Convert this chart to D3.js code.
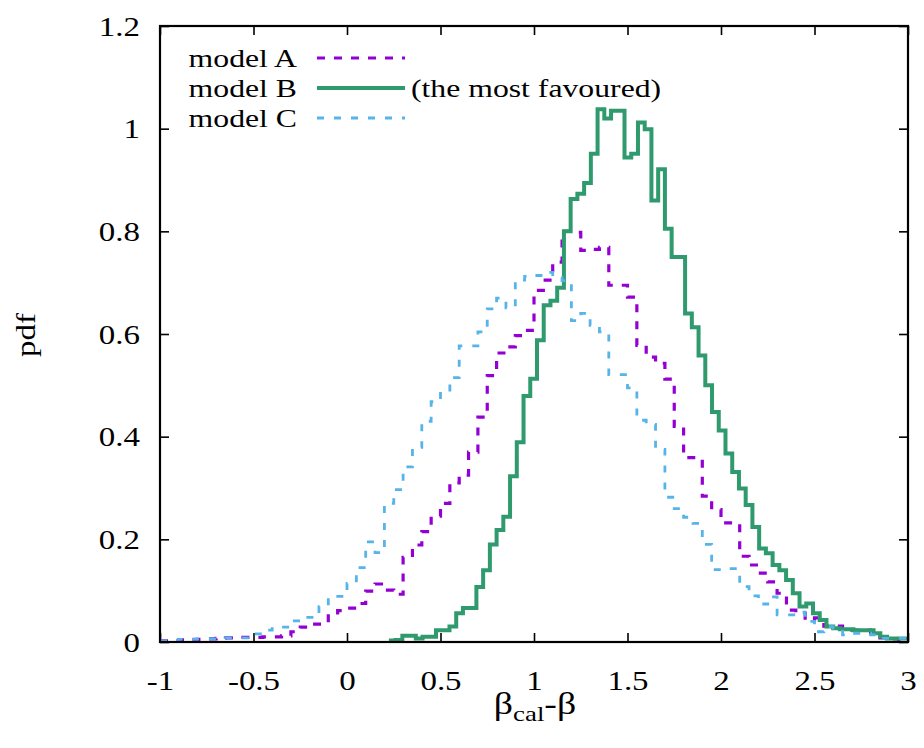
<!DOCTYPE html>
<html>
<head>
<meta charset="utf-8">
<script src="https://cdn.jsdelivr.net/npm/d3@7"></script>
<style>
  body { margin: 0; background: #fff; }
  text { font-family: "Liberation Serif", "Times New Roman", serif; fill: #000; }
</style>
</head>
<body>
<div id="viz"></div>
<script>
const width = 924;
const height = 748;
const margin = {top: 26, right: 16, bottom: 106, left: 160};
const stretch = 1.22; // text in the figure is a bit wider than plain Times

// axis ticks
const xTicks = [-1, -0.5, 0, 0.5, 1, 1.5, 2, 2.5, 3];
const yTicks = [0, 0.2, 0.4, 0.6, 0.8, 1, 1.2];

// histogram bins (left edge of first bin, bin width)
const binStartAC = -1;
const binWidthAC = 0.05;
const binStartB = 0.224;
const binWidthB = 0.036;

// model A, pdf per bin
const modelA = [
  0.002, 0.003, 0.004, 0.005, 0.005, 0.006, 0.007, 0.008, 0.009, 0.009,
  0.009, 0.010, 0.010, 0.012, 0.020, 0.029, 0.035, 0.035, 0.051, 0.061,
  0.066, 0.075, 0.099, 0.113, 0.101, 0.093, 0.165, 0.189, 0.215, 0.245,
  0.270, 0.310, 0.325, 0.370, 0.438, 0.519, 0.563, 0.575, 0.597, 0.607,
  0.685, 0.705, 0.740, 0.800, 0.798, 0.763, 0.765, 0.769, 0.695, 0.695,
  0.672, 0.578, 0.555, 0.543, 0.512, 0.420, 0.359, 0.359, 0.284, 0.258,
  0.232, 0.232, 0.167, 0.150, 0.134, 0.117, 0.095, 0.062, 0.056, 0.043,
  0.047, 0.031, 0.031, 0.027, 0.023, 0.023, 0.017, 0.008, 0.006, 0.005
];

// model B, pdf per bin
const modelB = [
  0.003, 0.004, 0.012, 0.012, 0.007, 0.010, 0.010, 0.023, 0.023, 0.030,
  0.056, 0.066, 0.066, 0.107, 0.140, 0.190, 0.218, 0.244, 0.323, 0.389,
  0.479, 0.513, 0.588, 0.656, 0.665, 0.690, 0.800, 0.863, 0.873, 0.894,
  0.951, 1.038, 1.020, 1.035, 1.035, 0.944, 0.951, 1.012, 0.999, 0.860,
  0.921, 0.805, 0.750, 0.750, 0.640, 0.613, 0.558, 0.500, 0.448, 0.412,
  0.367, 0.331, 0.299, 0.267, 0.224, 0.182, 0.173, 0.150, 0.140, 0.121,
  0.095, 0.069, 0.075, 0.056, 0.043, 0.030, 0.027, 0.025, 0.025, 0.023,
  0.023, 0.023, 0.017, 0.010, 0.007, 0.007, 0.007
];

// model C, pdf per bin
const modelC = [
  0.002, 0.003, 0.005, 0.005, 0.006, 0.006, 0.007, 0.008, 0.008, 0.008,
  0.016, 0.023, 0.029, 0.029, 0.041, 0.048, 0.048, 0.069, 0.089, 0.089,
  0.114, 0.145, 0.195, 0.174, 0.270, 0.297, 0.341, 0.379, 0.430, 0.468,
  0.487, 0.515, 0.577, 0.577, 0.604, 0.649, 0.670, 0.651, 0.705, 0.712,
  0.714, 0.720, 0.710, 0.704, 0.626, 0.640, 0.617, 0.604, 0.521, 0.521,
  0.495, 0.432, 0.424, 0.375, 0.282, 0.260, 0.243, 0.231, 0.190, 0.141,
  0.143, 0.143, 0.108, 0.090, 0.074, 0.088, 0.053, 0.053, 0.058, 0.040,
  0.020, 0.030, 0.027, 0.014, 0.017, 0.017, 0.014, 0.007, 0.007, 0.007
];

const seriesNames = ['model A', 'model B', 'model C'];
const series = [
  {name: seriesNames[0], values: modelA, start: binStartAC, w: binWidthAC, color: '#9400d3', width: 3.2, dash: '8,9'},
  {name: seriesNames[1], values: modelB, start: binStartB, w: binWidthB, color: '#2f9a6d', width: 4, dash: null},
  {name: seriesNames[2], values: modelC, start: binStartAC, w: binWidthAC, color: '#56b4e9', width: 2.8, dash: '7,10'}
];

const svg = d3.select('#viz')
  .append('svg')
    .attr('width', width)
    .attr('height', height);

// Scales
const xScale = d3.scaleLinear()
  .domain([-1, 3])
  .range([margin.left, width - margin.right]);
const yScale = d3.scaleLinear()
  .domain([0, 1.2])
  .range([height - margin.bottom, margin.top]);

const plotBottom = height - margin.bottom;
const plotRight = width - margin.right;

// Axes (gnuplot style: inward ticks, mirrored)
const xAxis = d3.axisBottom(xScale)
  .tickValues(xTicks)
  .tickSize(-9)
  .tickFormat(d => String(d));
const xAxisGroup = svg.append('g')
    .attr('class', 'x-axis-group')
    .attr('transform', `translate(0,${plotBottom})`)
  .call(xAxis);
xAxisGroup.selectAll('text')
    .attr('x', 0).attr('y', 0).attr('dy', 0)
    .attr('text-anchor', 'middle')
    .attr('transform', `translate(0,48) scale(${stretch},1)`)
    .style('font-size', '27px');

svg.append('g')
    .attr('transform', `translate(0,${margin.top})`)
  .call(d3.axisTop(xScale).tickValues(xTicks).tickSize(-9).tickFormat(''));

const yAxis = d3.axisLeft(yScale)
  .tickValues(yTicks)
  .tickSize(-9)
  .tickFormat(d => String(d));
const yAxisGroup = svg.append('g')
    .attr('class', 'y-axis-group')
    .attr('transform', `translate(${margin.left},0)`)
  .call(yAxis);
yAxisGroup.selectAll('text')
    .attr('x', 0).attr('y', 0).attr('dy', 0)
    .attr('text-anchor', 'end')
    .attr('transform', `translate(-20,9) scale(${stretch},1)`)
    .style('font-size', '27px');

svg.append('g')
    .attr('transform', `translate(${plotRight},0)`)
  .call(d3.axisRight(yScale).tickValues(yTicks).tickSize(-9).tickFormat(''));

svg.selectAll('.domain').remove();
svg.selectAll('.tick line')
    .attr('stroke', '#000')
    .attr('stroke-width', 1.6);

// Histogram steps
const stepLine = d3.line()
  .x(d => xScale(d[0]))
  .y(d => yScale(d[1]))
  .curve(d3.curveStepAfter);

const linesGroup = svg.append('g').attr('class', 'lines-group');
series.forEach(s => {
  const pts = s.values.map((v, i) => [s.start + i * s.w, v]);
  pts.push([s.start + s.values.length * s.w, s.values[s.values.length - 1]]);
  linesGroup.append('path')
      .attr('d', stepLine(pts))
      .attr('fill', 'none')
      .attr('stroke', s.color)
      .attr('stroke-width', s.width)
      .attr('stroke-dasharray', s.dash)
      .attr('stroke-linejoin', 'miter');
});

// Frame
svg.append('rect')
    .attr('x', margin.left)
    .attr('y', margin.top)
    .attr('width', plotRight - margin.left)
    .attr('height', plotBottom - margin.top)
    .attr('fill', 'none')
    .attr('stroke', '#000')
    .attr('stroke-width', 2.2);

// Legend
const legend = svg.append('g').attr('class', 'legend-group');
series.forEach((s, i) => {
  const ly = 58 + i * 30;
  legend.append('text')
      .attr('text-anchor', 'end')
      .attr('transform', `translate(297,${ly + 9}) scale(${stretch},1)`)
      .style('font-size', '26px')
      .text(s.name);
  legend.append('line')
      .attr('x1', 317).attr('x2', 405)
      .attr('y1', ly).attr('y2', ly)
      .attr('stroke', s.color)
      .attr('stroke-width', s.width)
      .attr('stroke-dasharray', s.dash);
});
legend.append('text')
    .attr('transform', `translate(411,97) scale(${stretch},1)`)
    .style('font-size', '26px')
    .text('(the most favoured)');

// Axis titles
const xTitle = svg.append('text')
    .attr('text-anchor', 'middle')
    .attr('transform', `translate(535,714) scale(${stretch},1)`)
    .style('font-size', '31px');
xTitle.append('tspan').text('β');
xTitle.append('tspan').attr('dy', 7).style('font-size', '22px').text('cal');
xTitle.append('tspan').attr('dy', -7).text('-β');

svg.append('text')
    .attr('text-anchor', 'middle')
    .attr('transform', `translate(35,335) rotate(-90) scale(${stretch},1)`)
    .style('font-size', '27px')
    .text('pdf');
</script>
</body>
</html>
